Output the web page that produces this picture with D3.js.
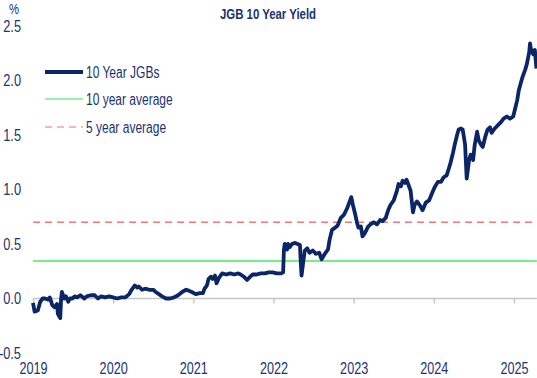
<!DOCTYPE html>
<html><head><meta charset="utf-8">
<script src="https://cdn.jsdelivr.net/npm/d3@7"></script>
<style>
html,body{margin:0;padding:0;background:#fff;}
svg{display:block;font-family:"Liberation Sans",Arial,sans-serif;}
</style></head>
<body><svg id="c" width="537" height="378"></svg>
<script>
const title = "JGB 10 Year Yield";
const yUnit = "%";
const yTicks = [-0.5, 0.0, 0.5, 1.0, 1.5, 2.0, 2.5];
const xTicks = [2019, 2020, 2021, 2022, 2023, 2024, 2025];
const seriesNames = ["10 Year JGBs", "10 year average", "5 year average"];
const avg10 = 0.344;
const avg5 = 0.70;
const years = [2019.00,2019.02,2019.06,2019.09,2019.12,2019.15,2019.19,2019.21,2019.24,2019.27,2019.30,2019.31,2019.34,2019.35,2019.36,2019.39,2019.41,2019.44,2019.46,2019.49,2019.52,2019.55,2019.59,2019.64,2019.67,2019.72,2019.77,2019.81,2019.85,2019.90,2019.95,2020.00,2020.05,2020.10,2020.15,2020.20,2020.23,2020.27,2020.30,2020.32,2020.36,2020.40,2020.45,2020.50,2020.53,2020.57,2020.61,2020.66,2020.71,2020.76,2020.81,2020.86,2020.91,2020.95,2020.98,2021.03,2021.08,2021.12,2021.14,2021.17,2021.19,2021.22,2021.24,2021.27,2021.29,2021.32,2021.36,2021.41,2021.46,2021.51,2021.56,2021.59,2021.63,2021.67,2021.71,2021.74,2021.79,2021.84,2021.89,2021.94,2021.99,2022.04,2022.09,2022.12,2022.13,2022.14,2022.17,2022.18,2022.20,2022.23,2022.27,2022.30,2022.33,2022.34,2022.35,2022.37,2022.39,2022.42,2022.45,2022.49,2022.53,2022.57,2022.60,2022.64,2022.68,2022.70,2022.73,2022.77,2022.80,2022.84,2022.88,2022.92,2022.94,2022.97,2022.99,2023.02,2023.04,2023.06,2023.09,2023.11,2023.14,2023.18,2023.21,2023.25,2023.29,2023.33,2023.36,2023.40,2023.43,2023.46,2023.50,2023.54,2023.56,2023.59,2023.61,2023.64,2023.66,2023.69,2023.71,2023.74,2023.76,2023.79,2023.83,2023.86,2023.90,2023.94,2023.98,2024.01,2024.05,2024.09,2024.12,2024.16,2024.19,2024.21,2024.24,2024.26,2024.29,2024.31,2024.34,2024.36,2024.39,2024.41,2024.44,2024.46,2024.49,2024.51,2024.54,2024.56,2024.59,2024.61,2024.64,2024.67,2024.70,2024.72,2024.76,2024.80,2024.84,2024.87,2024.91,2024.95,2024.99,2025.01,2025.04,2025.06,2025.09,2025.11,2025.14,2025.16,2025.19,2025.20,2025.21,2025.24,2025.26,2025.28];
const yields = [-0.04,-0.12,-0.11,-0.03,0.00,0.00,-0.01,0.01,-0.06,-0.08,-0.05,-0.14,-0.18,-0.01,0.06,0.00,0.02,-0.03,0.00,0.00,0.02,0.01,0.03,0.00,0.02,0.03,0.03,0.00,0.02,0.01,0.02,0.01,0.00,0.01,0.01,0.04,0.08,0.12,0.10,0.11,0.08,0.09,0.08,0.08,0.06,0.04,0.02,0.00,0.00,0.01,0.03,0.06,0.08,0.07,0.06,0.04,0.05,0.05,0.09,0.12,0.18,0.20,0.18,0.21,0.14,0.19,0.23,0.22,0.23,0.22,0.23,0.22,0.20,0.17,0.20,0.22,0.22,0.23,0.23,0.24,0.24,0.23,0.23,0.24,0.45,0.50,0.45,0.50,0.47,0.50,0.51,0.50,0.49,0.33,0.21,0.33,0.44,0.46,0.42,0.44,0.41,0.42,0.36,0.41,0.45,0.54,0.63,0.65,0.67,0.74,0.77,0.83,0.87,0.93,0.86,0.77,0.70,0.65,0.66,0.57,0.60,0.66,0.68,0.70,0.68,0.72,0.71,0.74,0.81,0.86,0.90,0.99,1.05,1.03,1.08,1.06,1.09,1.03,0.99,0.79,0.86,0.89,0.85,0.81,0.88,0.90,0.97,1.02,1.07,1.07,1.11,1.13,1.20,1.25,1.34,1.41,1.50,1.55,1.56,1.55,1.41,1.10,1.27,1.32,1.27,1.41,1.53,1.45,1.41,1.39,1.48,1.55,1.57,1.52,1.56,1.59,1.62,1.65,1.67,1.65,1.67,1.73,1.82,1.91,1.99,2.04,2.10,2.15,2.26,2.34,2.29,2.24,2.28,2.11];

const navy = "#0b2566", textCol = "#1c3270", green = "#72f08c", red = "#ee7b7b";
const FONT = "'Liberation Sans',Arial,sans-serif";
const svg = d3.select("#c");
const x = d3.scaleLinear().domain([2019, 2025]).range([33, 514]);
const y = d3.scaleLinear().domain([-0.5, 2.5]).range([353, 26]);
const xEnd = x(2025.285);

svg.append("text").attr("data-sq", 0.76).attr("x", 268).attr("y", 19).attr("text-anchor", "middle")
  .attr("font-weight", "bold").attr("font-size", 15).attr("fill", textCol).text(title);
svg.append("text").attr("data-sq", 0.8).attr("x", 14).attr("y", 14).attr("text-anchor", "middle")
  .attr("font-size", 14).attr("fill", textCol).text(yUnit);

// y labels
const yAxis = d3.axisLeft(y).tickValues(yTicks).tickFormat(d => d.toFixed(1)).tickSize(0).tickPadding(0);
const gy = svg.append("g").attr("transform", "translate(21,0)").call(yAxis);
gy.select(".domain").remove();
gy.selectAll("text").attr("data-sq", 0.8).attr("font-size", 16).attr("fill", textCol).attr("font-family", FONT);

// zero axis
const xAxis = d3.axisBottom(x).tickValues(xTicks).tickFormat(d3.format("d")).tickSizeInner(5).tickSizeOuter(0).tickPadding(59);
const gx = svg.append("g").attr("transform", `translate(0,${y(0)})`).call(xAxis);
gx.select(".domain").attr("d", `M${x(2019)},0H${xEnd}`).attr("stroke", "#c6c6c6").attr("stroke-width", 1.5);
gx.selectAll(".tick line").attr("stroke", "#c6c6c6").attr("stroke-width", 1.5);
gx.selectAll("text").attr("data-sq", 0.79).attr("font-size", 16).attr("fill", textCol).attr("font-family", FONT);

// averages
svg.append("line").attr("x1", x(2019)).attr("x2", xEnd).attr("y1", y(avg10)).attr("y2", y(avg10))
  .attr("stroke", green).attr("stroke-width", 2);
svg.append("line").attr("x1", x(2019)).attr("x2", xEnd).attr("y1", y(avg5)).attr("y2", y(avg5))
  .attr("stroke", red).attr("stroke-width", 1.5).attr("stroke-dasharray", "7,5");

// series
const data = years.map((t, i) => ({t, v: yields[i]}));
svg.append("path").datum(data).attr("fill", "none").attr("stroke", navy).attr("stroke-width", 3.8)
  .attr("stroke-linejoin", "round")
  .attr("d", d3.line().x(d => x(d.t)).y(d => y(d.v)));

// legend
const leg = [
  {y: 72, stroke: navy, w: 4, dash: null},
  {y: 99, stroke: green, w: 1.5, dash: null},
  {y: 127, stroke: "#f4a3a3", w: 1.5, dash: "7,5"}
];
leg.forEach((l, i) => {
  svg.append("line").attr("x1", 45).attr("x2", 83).attr("y1", l.y).attr("y2", l.y)
    .attr("stroke", l.stroke).attr("stroke-width", l.w).attr("stroke-dasharray", l.dash);
  svg.append("text").attr("data-sq", 0.75).attr("x", 86).attr("y", l.y).attr("dy", "0.35em").attr("font-size", 16)
    .attr("fill", textCol).text(seriesNames[i]);
});

// condense text like the narrow original typeface
svg.selectAll("text[data-sq]").each(function() {
  const w = this.getComputedTextLength();
  const sq = +this.getAttribute("data-sq");
  d3.select(this).attr("textLength", (w * sq).toFixed(1)).attr("lengthAdjust", "spacingAndGlyphs");
});
</script></body></html>
